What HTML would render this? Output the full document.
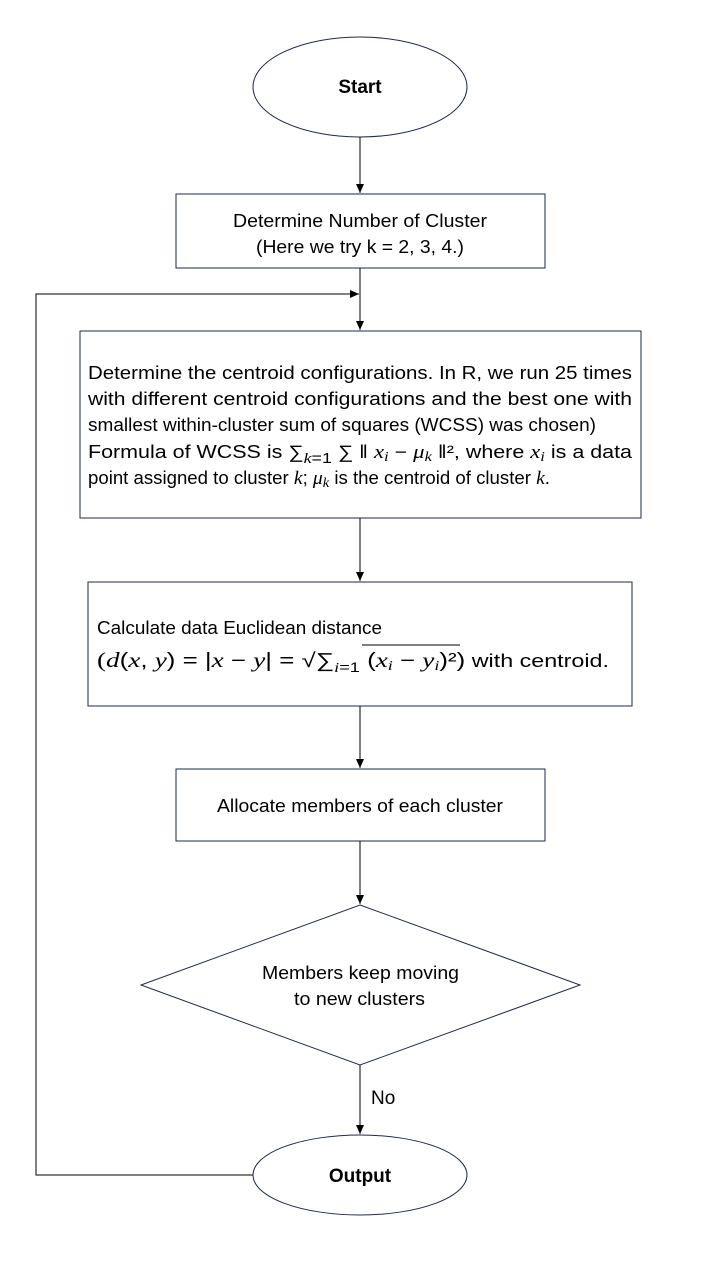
<!DOCTYPE html>
<html><head><meta charset="utf-8"><style>
html,body{margin:0;padding:0;background:#fff;}
svg{display:block;}
text{font-family:"Liberation Sans",sans-serif;font-size:18px;fill:#000;}
.m{font-family:"Liberation Serif",serif;font-style:italic;font-size:19px;}
</style></head><body>
<svg width="720" height="1280" viewBox="0 0 720 1280" xmlns="http://www.w3.org/2000/svg">
<defs><marker id="a" markerWidth="10" markerHeight="10" refX="9" refY="5" orient="auto" markerUnits="userSpaceOnUse"><path d="M0,1 L9,5 L0,9 z" fill="#000"/></marker></defs>
<g stroke="#000" stroke-width="1" fill="none">
<ellipse cx="360" cy="87" rx="107" ry="50" stroke="#1f2a44"/>
<line x1="360" y1="137" x2="360" y2="193" marker-end="url(#a)"/>
<rect x="176" y="194" width="369" height="74" stroke="#1f2a44"/>
<line x1="360" y1="268" x2="360" y2="330" marker-end="url(#a)"/>
<polyline points="253,1175 36,1175 36,294 359,294" marker-end="url(#a)"/>
<rect x="80" y="331" width="561" height="187" stroke="#1f2a44"/>
<line x1="360" y1="518" x2="360" y2="581" marker-end="url(#a)"/>
<rect x="88" y="582" width="544" height="124" stroke="#1f2a44"/>
<line x1="360" y1="706" x2="360" y2="768" marker-end="url(#a)"/>
<rect x="176" y="769" width="369" height="72" stroke="#1f2a44"/>
<line x1="360" y1="841" x2="360" y2="904" marker-end="url(#a)"/>
<polygon points="360,905 580,985 360,1065 141,985" stroke="#1f2a44"/>
<line x1="360" y1="1065" x2="360" y2="1134" marker-end="url(#a)"/>
<ellipse cx="360" cy="1175" rx="107" ry="40" stroke="#1f2a44"/>
</g>
<text x="360" y="93" text-anchor="middle" font-weight="bold" style="font-size:19px">Start</text>
<text x="233" y="227" textLength="254" lengthAdjust="spacingAndGlyphs">Determine Number of Cluster</text>
<text x="256" y="253" textLength="208" lengthAdjust="spacingAndGlyphs">(Here we try k = 2, 3, 4.)</text>
<text x="88" y="379" textLength="544" lengthAdjust="spacingAndGlyphs">Determine the centroid configurations. In R, we run 25 times</text>
<text x="88" y="405" textLength="544" lengthAdjust="spacingAndGlyphs">with different centroid configurations and the best one with</text>
<text x="88" y="431" textLength="508" lengthAdjust="spacingAndGlyphs">smallest within-cluster sum of squares (WCSS) was chosen)</text>
<text x="88" y="458" textLength="544" lengthAdjust="spacingAndGlyphs">Formula of WCSS is ∑<tspan class="m" dy="5" style="font-size:15px">k</tspan><tspan style="font-size:15px">=1</tspan><tspan dy="-5"> ∑ ‖ </tspan><tspan class="m">x</tspan><tspan class="m" style="font-size:14px" dy="3">i</tspan><tspan dy="-3"> − </tspan><tspan class="m">μ</tspan><tspan class="m" style="font-size:14px" dy="3">k</tspan><tspan dy="-3"> ‖²</tspan>, where <tspan class="m">x</tspan><tspan class="m" style="font-size:14px" dy="3">i</tspan><tspan dy="-3"> is a data</tspan></text>
<text x="88" y="484" textLength="462" lengthAdjust="spacingAndGlyphs">point assigned to cluster <tspan class="m">k</tspan>; <tspan class="m">μ</tspan><tspan class="m" style="font-size:14px" dy="3">k</tspan><tspan dy="-3"> is the centroid of cluster </tspan><tspan class="m">k</tspan>.</text>
<text x="97" y="634" textLength="285" lengthAdjust="spacingAndGlyphs">Calculate data Euclidean distance</text>
<text x="97" y="667" textLength="512" lengthAdjust="spacingAndGlyphs" style="font-size:20px"><tspan class="m" style="font-style:normal;font-size:21px">(</tspan><tspan class="m" style="font-size:21px">d</tspan>(<tspan class="m" style="font-size:21px">x</tspan>, <tspan class="m" style="font-size:21px">y</tspan>) = |<tspan class="m" style="font-size:21px">x</tspan> − <tspan class="m" style="font-size:21px">y</tspan>| = √∑<tspan class="m" style="font-size:14px" dy="5">i</tspan><tspan style="font-size:14px">=1</tspan><tspan dy="-5"> (</tspan><tspan class="m" style="font-size:21px">x</tspan><tspan class="m" style="font-size:14px" dy="3">i</tspan><tspan dy="-3"> − </tspan><tspan class="m" style="font-size:21px">y</tspan><tspan class="m" style="font-size:14px" dy="3">i</tspan><tspan dy="-3">)²)</tspan><tspan style="font-size:18px"> with centroid.</tspan></text>
<line x1="362" y1="645" x2="460" y2="645" stroke="#000" stroke-width="1"/>
<text x="217" y="812" textLength="286" lengthAdjust="spacingAndGlyphs">Allocate members of each cluster</text>
<text x="262" y="979" textLength="197" lengthAdjust="spacingAndGlyphs">Members keep moving</text>
<text x="294" y="1005" textLength="131" lengthAdjust="spacingAndGlyphs">to new clusters</text>
<text x="371" y="1104" style="font-size:19px">No</text>
<text x="360" y="1182" text-anchor="middle" font-weight="bold" style="font-size:19px">Output</text>
</svg>
</body></html>
